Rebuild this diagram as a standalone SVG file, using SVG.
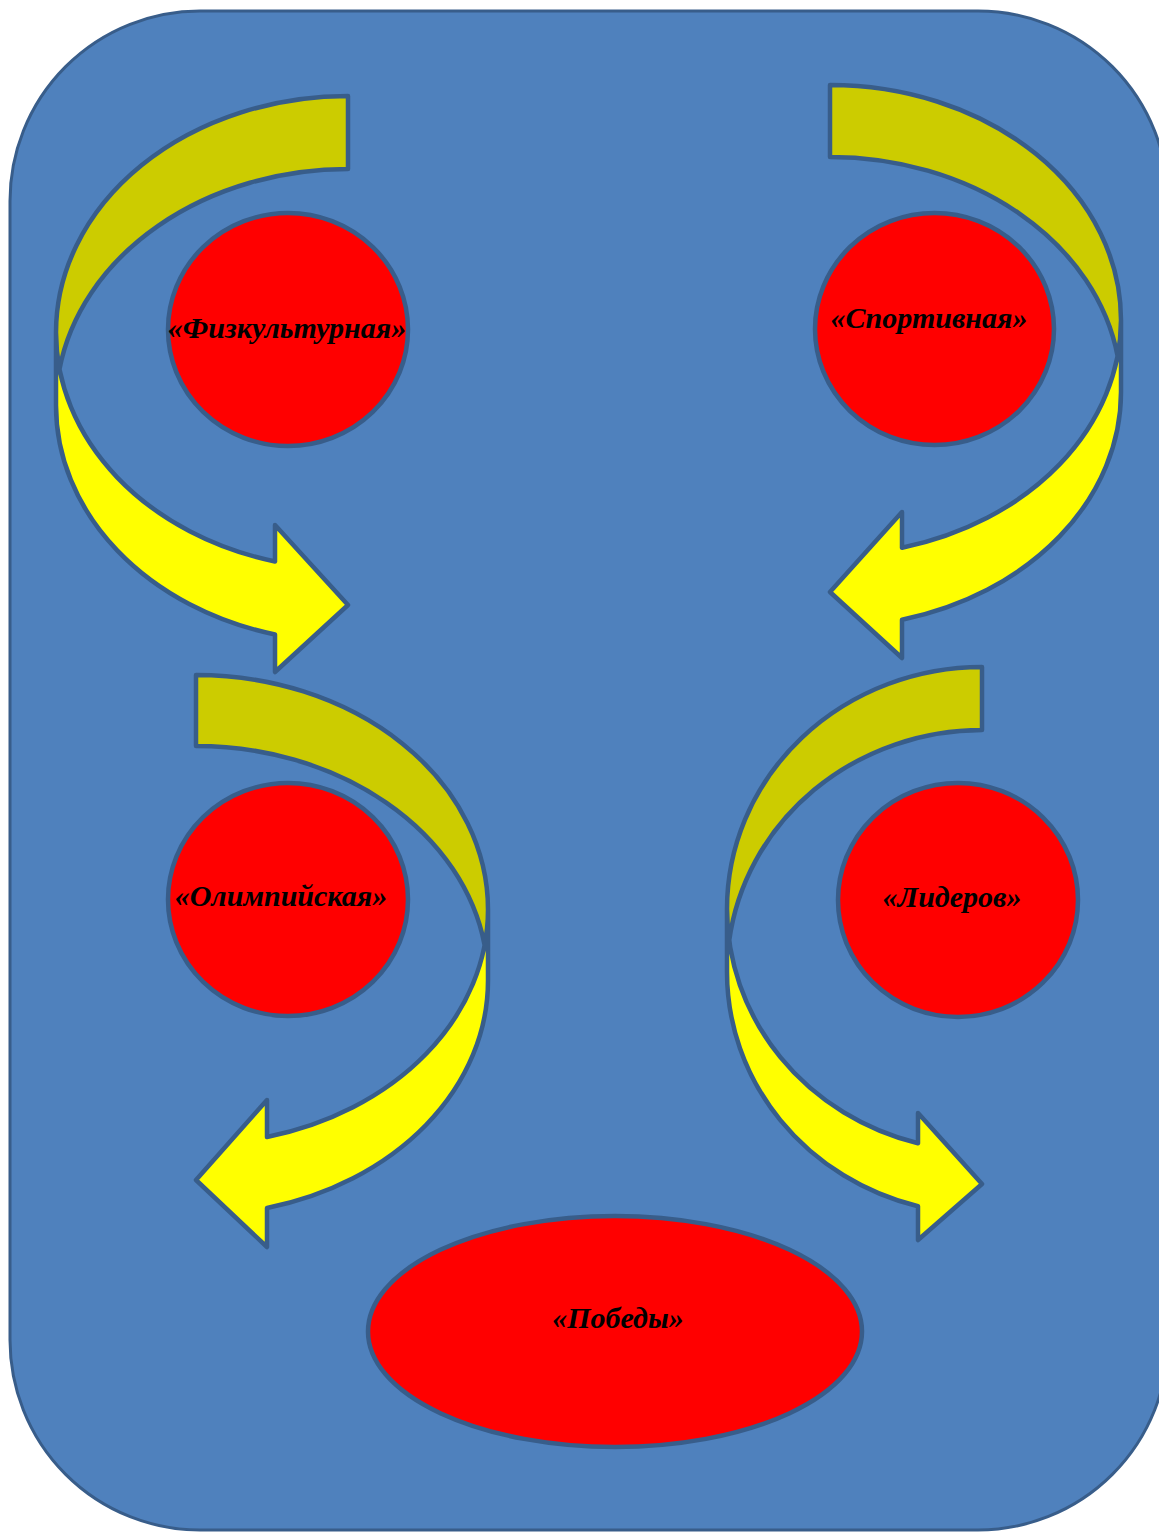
<svg xmlns="http://www.w3.org/2000/svg" width="1159" height="1532" viewBox="0 0 1159 1532">
  <style>
    .bg { fill: #4F81BD; stroke: #385D8A; stroke-width: 3; }
    .front { fill: #FFFF00; stroke: none; }
    .back { fill: #CCCC00; stroke: none; }
    .outline { fill: none; stroke: #385D8A; stroke-width: 4.5; stroke-linejoin: round; }
    .node { fill: #FF0000; stroke: #385D8A; stroke-width: 4.5; }
    .label { font-family: "Liberation Serif", "Times New Roman", serif; font-size: 30px; font-weight: bold; font-style: italic; fill: #000000; text-anchor: middle; }
  </style>
  <rect class="bg" x="10" y="11" width="1158" height="1519" rx="190" ry="190"/>

  <g id="connectors">
    <g id="arrow-top-left">
      <path class="back" d="M 348,96 A 292 236.5 0 0 0 56,332.5 L 56,369 L 59.5,369 A 292 236.5 0 0 1 348,169 Z"/>
      <path class="front" d="M 56,332.5 A 292 236.5 0 0 0 275,561.5 L 275,525 L 348,605 L 275,672 L 275,634.5 A 292 236.5 0 0 1 56,405.5 Z"/>
      <path class="outline" d="M 56,332.5 A 292 236.5 0 0 0 275,561.5 L 275,525 L 348,605 L 275,672 L 275,634.5 A 292 236.5 0 0 1 56,405.5 L 56,332.5 A 292 236.5 0 0 1 348,96 L 348,169 A 292 236.5 0 0 0 59.5,369"/>
    </g>
    <g id="arrow-top-right">
      <path class="back" d="M 830,85 A 291 235 0 0 1 1121,320 L 1121,356 L 1117.6,356 A 291 235 0 0 0 830,157 Z"/>
      <path class="front" d="M 1121,320 A 291 235 0 0 1 902,547.7 L 902,512 L 830,592 L 902,658 L 902,619.7 A 291 235 0 0 0 1121,392 Z"/>
      <path class="outline" d="M 1121,320 A 291 235 0 0 1 902,547.7 L 902,512 L 830,592 L 902,658 L 902,619.7 A 291 235 0 0 0 1121,392 L 1121,320 A 291 235 0 0 0 830,85 L 830,157 A 291 235 0 0 1 1117.6,356"/>
    </g>
    <g id="arrow-middle-left">
      <path class="back" d="M 196,675 A 292 234.5 0 0 1 488,909.5 L 488,945 L 484.6,945 A 292 234.5 0 0 0 196,746 Z"/>
      <path class="front" d="M 488,909.5 A 292 234.5 0 0 1 267,1137 L 267,1100 L 196,1180 L 267,1247 L 267,1208 A 292 234.5 0 0 0 488,980.5 Z"/>
      <path class="outline" d="M 488,909.5 A 292 234.5 0 0 1 267,1137 L 267,1100 L 196,1180 L 267,1247 L 267,1208 A 292 234.5 0 0 0 488,980.5 L 488,909.5 A 292 234.5 0 0 0 196,675 L 196,746 A 292 234.5 0 0 1 484.6,945"/>
    </g>
    <g id="arrow-middle-right">
      <path class="back" d="M 982,667 A 255 242 0 0 0 727,909 L 727,940.5 L 729.2,940.5 A 255 242 0 0 1 982,730 Z"/>
      <path class="front" d="M 727,909 A 255 242 0 0 0 918,1143.3 L 918,1113 L 982,1184 L 918,1240 L 918,1206.3 A 255 242 0 0 1 727,972 Z"/>
      <path class="outline" d="M 727,909 A 255 242 0 0 0 918,1143.3 L 918,1113 L 982,1184 L 918,1240 L 918,1206.3 A 255 242 0 0 1 727,972 L 727,909 A 255 242 0 0 1 982,667 L 982,730 A 255 242 0 0 0 729.2,940.5"/>
    </g>
  </g>

  <g id="node-fizkulturnaya">
    <ellipse class="node" cx="288" cy="329.5" rx="120" ry="116.5"/>
    <text class="label" x="287" y="338">«Физкультурная»</text>
  </g>
  <g id="node-sportivnaya">
    <ellipse class="node" cx="934.5" cy="329" rx="119.5" ry="116"/>
    <text class="label" x="929" y="328">«Спортивная»</text>
  </g>
  <g id="node-olimpiyskaya">
    <ellipse class="node" cx="288" cy="899.5" rx="120" ry="116.5"/>
    <text class="label" x="281" y="906">«Олимпийская»</text>
  </g>
  <g id="node-liderov">
    <ellipse class="node" cx="958" cy="900" rx="120" ry="117"/>
    <text class="label" x="952" y="907">«Лидеров»</text>
  </g>
  <g id="node-pobedy">
    <ellipse class="node" cx="615" cy="1331.5" rx="247" ry="115.5"/>
    <text class="label" x="618" y="1328">«Победы»</text>
  </g>
</svg>
